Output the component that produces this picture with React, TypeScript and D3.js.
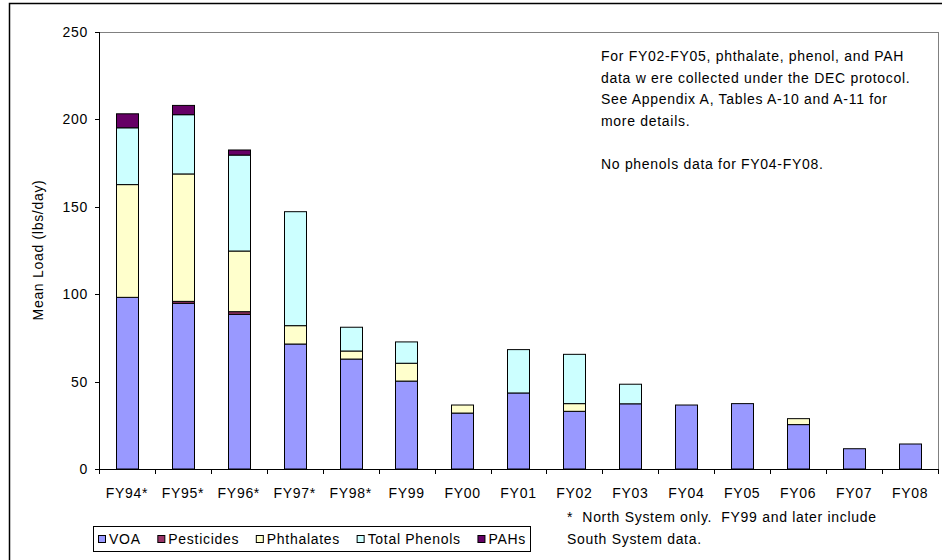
import React from "react";
import * as d3 from "d3";

const categories = ["FY94*", "FY95*", "FY96*", "FY97*", "FY98*", "FY99", "FY00", "FY01", "FY02", "FY03", "FY04", "FY05", "FY06", "FY07", "FY08"];
const voa = [98.2, 94.8, 88.5, 71.5, 62.9, 50.3, 32.0, 43.5, 33.0, 37.3, 36.6, 37.4, 25.4, 11.6, 14.3];
const pesticides = [0, 1.1, 1.5, 0, 0, 0, 0, 0, 0, 0, 0, 0, 0, 0, 0];
const phthalates = [64.5, 72.9, 34.7, 10.5, 4.6, 10.2, 4.6, 0, 4.4, 0, 0, 0, 3.4, 0, 0];
const phenols = [32.5, 33.9, 54.9, 65.2, 13.6, 12.2, 0, 24.8, 28.2, 11.2, 0, 0, 0, 0, 0];
const pahs = [8.0, 5.3, 2.9, 0, 0, 0, 0, 0, 0, 0, 0, 0, 0, 0, 0];
const seriesNames = ["VOA", "Pesticides", "Phthalates", "Total Phenols", "PAHs"];
const seriesColors = ["#9999FF", "#993366", "#FFFFCC", "#CCFFFF", "#660066"];
const yTicks = [0, 50, 100, 150, 200, 250];
const noteLines = [
  "For FY02-FY05, phthalate, phenol, and PAH",
  "data w ere collected under the DEC protocol.",
  "See Appendix A, Tables A-10 and A-11 for",
  "more details.",
  "",
  "No phenols data for FY04-FY08.",
];
const footLines = ["*  North System only.  FY99 and later include", "South System data."];

const FONT = "'Liberation Sans', Arial, sans-serif";
const FS = 14;
const LS = 0.7;

function measure(s: string): number {
  if (typeof document === "undefined") return s.length * 7.5;
  const c = document.createElement("canvas").getContext("2d");
  if (!c) return s.length * 7.5;
  c.font = `${FS}px 'Liberation Sans', Arial, sans-serif`;
  return c.measureText(s).width + LS * s.length;
}

export default function App() {
  const left = 99, right = 938, top = 32, bottom = 469;
  const x = d3.scaleBand<string>().domain(categories).range([left, right]).paddingInner(0.6).paddingOuter(0.3);
  const y = d3.scaleLinear().domain([0, 250]).range([bottom, top]);
  const allSeries = [voa, pesticides, phthalates, phenols, pahs];
  const rows = categories.map((c, i) => {
    const r: any = { cat: c };
    seriesNames.forEach((s, k) => (r[s] = allSeries[k][i]));
    return r;
  });
  const stacked = d3.stack<any>().keys(seriesNames)(rows);
  const step = x.step();
  const boundaries = d3.range(categories.length + 1).map((i) => left + i * step);

  // legend layout
  const legLeft = 93, legRight = 530;
  const widths = seriesNames.map(measure);
  const inner = widths.reduce((a, b) => a + b, 0) + seriesNames.length * 12;
  const gap = Math.max(4, (legRight - legLeft - 8 - inner) / (seriesNames.length - 1));
  let lx = legLeft + 5;
  const legendPos = widths.map((w) => {
    const p = lx;
    lx += 12 + w + gap;
    return p;
  });

  const textProps = { fontSize: FS, fill: "#000", letterSpacing: LS } as any;

  return (
    <svg width={942} height={560} style={{ position: "absolute", left: 0, top: 0, background: "#fff" }} fontFamily={FONT}>
      <rect x={0} y={0} width={942} height={560} fill="#fff" />
      <rect x={9.5} y={3.5} width={940} height={560} fill="none" stroke="#000" strokeWidth={1.5} />
      {/* plot area border */}
      <line x1={left} x2={right} y1={top + 0.5} y2={top + 0.5} stroke="#808080" />
      <line x1={right + 0.5} x2={right + 0.5} y1={top} y2={bottom} stroke="#808080" />
      {/* bars */}
      {stacked.map((layer, k) => (
        <g key={layer.key}>
          {layer.map((d, i) =>
            d[1] - d[0] > 0 ? (
              <rect
                key={i}
                x={Math.round(x(categories[i])!) + 0.5}
                y={y(d[1])}
                width={Math.round(x.bandwidth())}
                height={y(d[0]) - y(d[1])}
                fill={seriesColors[k]}
                stroke="#000"
                strokeWidth={1}
              />
            ) : null
          )}
        </g>
      ))}
      {/* y axis */}
      <line x1={left + 0.5} x2={left + 0.5} y1={top} y2={bottom} stroke="#000" />
      {yTicks.map((t) => (
        <g key={t}>
          <line x1={left - 4} x2={left} y1={Math.round(y(t)) + 0.5} y2={Math.round(y(t)) + 0.5} stroke="#000" />
          <text x={left - 11} y={y(t) + 5} textAnchor="end" {...textProps}>
            {t}
          </text>
        </g>
      ))}
      {/* x axis */}
      <line x1={left} x2={right} y1={bottom + 0.5} y2={bottom + 0.5} stroke="#000" />
      {boundaries.map((b, i) => (
        <line key={i} x1={Math.round(b) + 0.5} x2={Math.round(b) + 0.5} y1={bottom} y2={bottom + 5} stroke="#000" />
      ))}
      {categories.map((c) => (
        <text key={c} x={x(c)! + x.bandwidth() / 2} y={498} textAnchor="middle" {...textProps}>
          {c}
        </text>
      ))}
      {/* y title */}
      <text transform={`translate(43,250) rotate(-90)`} textAnchor="middle" {...textProps}>
        Mean Load (lbs/day)
      </text>
      {/* note */}
      {noteLines.map((l, i) => (
        <text key={i} x={601} y={61 + i * 21.5} {...textProps}>
          {l}
        </text>
      ))}
      {footLines.map((l, i) => (
        <text key={i} x={567} y={522 + i * 22} {...textProps} style={{ whiteSpace: "pre" }}>
          {l}
        </text>
      ))}
      {/* legend */}
      <rect x={legLeft + 0.5} y={526.5} width={legRight - legLeft} height={25} fill="#fff" stroke="#000" />
      {seriesNames.map((s, k) => (
        <g key={s}>
          <rect x={legendPos[k] + 0.5} y={535.5} width={7} height={7} fill={seriesColors[k]} stroke="#000" />
          <text x={legendPos[k] + 11} y={544} {...textProps}>
            {s}
          </text>
        </g>
      ))}
    </svg>
  );
}
